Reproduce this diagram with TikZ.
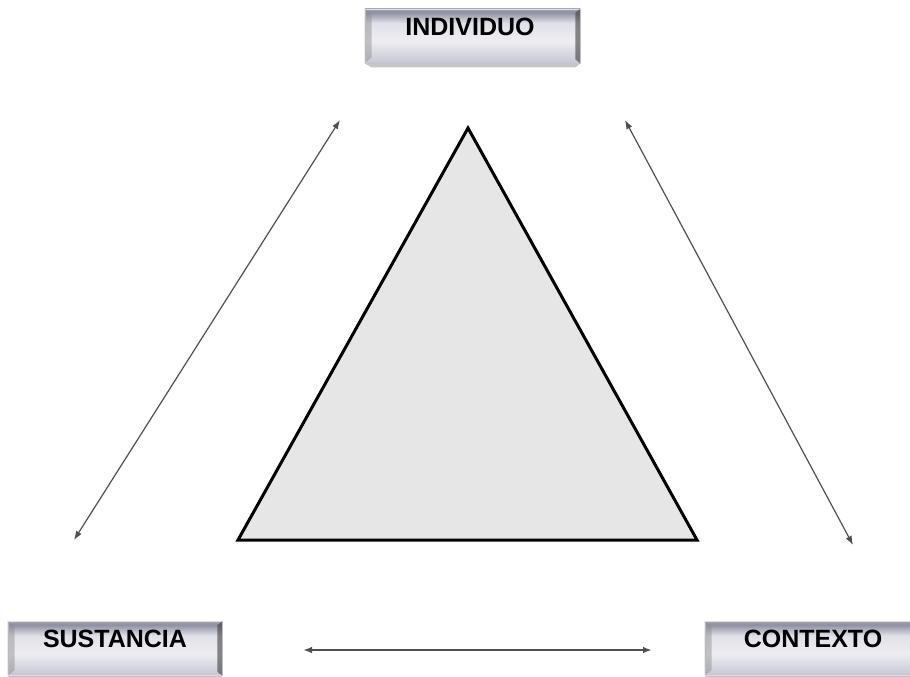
\documentclass[tikz,border=0pt]{standalone}
\usepackage{fontspec}
\setmainfont{Liberation Sans}
\usetikzlibrary{arrows.meta}
\definecolor{m0}{HTML}{6E7080}
\definecolor{m1}{HTML}{A0A2B2}
\definecolor{m2}{HTML}{C4C6D2}
\definecolor{m3}{HTML}{EEEEF2}
\definecolor{m4}{HTML}{E0E0E8}
\definecolor{m5}{HTML}{8E90A2}
\definecolor{m6}{HTML}{C0C0CC}
\definecolor{m7}{HTML}{DADAE2}
\definecolor{m8}{HTML}{ECECF0}
\definecolor{arrowgray}{HTML}{505050}
\definecolor{trifill}{HTML}{E6E6E6}
\pgfdeclareverticalshading{metal}{100bp}{color(0bp)=(m0); color(8bp)=(m1); color(25bp)=(m2); color(45bp)=(m3); color(62bp)=(m4); color(72bp)=(m5); color(80bp)=(m6); color(92bp)=(m7); color(100bp)=(m8)}
\tikzset{
  metalbox/.style={draw=m4, line width=0.8pt, shading=metal, minimum height=54pt, inner sep=0pt},
  boxlabel/.style={font=\bfseries\fontsize{25}{25}\selectfont, text=black, inner sep=0pt},
  rel/.style={draw=arrowgray, line width=1.2pt, {Latex[length=9pt,width=6.5pt]}-{Latex[length=9pt,width=6.5pt]}},
  tri/.style={draw=black, line width=3pt, fill=trifill, line join=miter}
}
\begin{document}
\begin{tikzpicture}[x=1pt,y=-1pt]
\useasboundingbox (0,0) rectangle (910,677);
% boxes
\node[metalbox, minimum width=215pt] (ind) at (472.5,36) {};
\node[metalbox, minimum width=214pt] (sus) at (115,648.5) {};
\node[metalbox, minimum width=210pt] (con) at (810,648.5) {};
% bevels
\foreach \b in {ind,sus,con}{
  \fill[black!45, opacity=0.45] (\b.north west) -- ++(7,6) -- ([xshift=7pt,yshift=6pt]\b.south west) -- (\b.south west) -- cycle;
  \fill[black!75, opacity=0.6] (\b.north east) -- ++(-5,4) -- ([xshift=-5pt,yshift=4pt]\b.south east) -- (\b.south east) -- cycle;
  \fill[black!50, opacity=0.45] (\b.south west) -- ([xshift=7pt,yshift=-4pt]\b.south west) -- ([xshift=-5pt,yshift=-4pt]\b.south east) -- (\b.south east) -- cycle;
}
\node[boxlabel] (indt) at (470,27) {INDIVIDUO};
\node[boxlabel] (sust) at (115,639) {SUSTANCIA};
\node[boxlabel] (cont) at (813,639) {CONTEXTO};
% triangle
\coordinate (ta) at (468,128);
\coordinate (tl) at (238,540);
\coordinate (tr) at (697,540);
\draw[tri] (ta) -- (tl) -- (tr) -- cycle;
% arrows
\coordinate (l1) at (74,540);
\coordinate (l2) at (340,120);
\coordinate (r1) at (625,120);
\coordinate (r2) at (853,545);
\coordinate (h1) at (303,650);
\coordinate (h2) at (652,650);
\draw[rel] (l1) -- (l2);
\draw[rel] (r1) -- (r2);
\draw[rel, line width=1.8pt] (h1) -- (h2);
\end{tikzpicture}
\end{document}
